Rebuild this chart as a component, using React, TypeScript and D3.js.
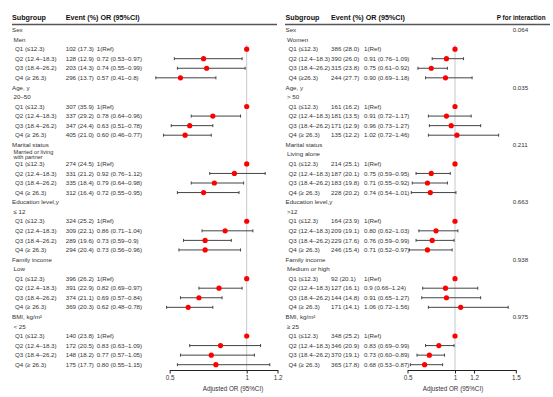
import { useEffect, useRef } from "react";
import * as d3 from "d3";

// values
const groups = ["Sex", "Age, y", "Marital status", "Education level,y", "Family income", "BMI, kg/m²"];
const pInteraction = ["0.064", "0.035", "0.211", "0.663", "0.938", "0.975"];
const quartiles = ["Q1 (≤12.3)", "Q2 (12.4–18.3)", "Q3 (18.4–26.2)", "Q4 (≥ 26.3)"];

const leftSub = ["Men", "20–50", "Married or living|with partner", "≤ 12", "Low", "< 25"];
const rightSub = ["Women", "> 50", "Living alone", ">12", "Medium or high", "≥ 25"];

const leftEvents = [
  ["102 (17.3)", "128 (12.9)", "203 (14.3)", "296 (13.7)"],
  ["307 (35.9)", "337 (29.2)", "347 (24.4)", "405 (21.0)"],
  ["274 (24.5)", "331 (21.2)", "335 (18.4)", "312 (16.4)"],
  ["324 (25.2)", "309 (22.1)", "289 (19.6)", "294 (20.4)"],
  ["396 (26.2)", "391 (22.9)", "374 (21.1)", "369 (20.3)"],
  ["140 (23.8)", "172 (20.5)", "148 (18.2)", "175 (17.7)"],
];
const leftOrText = [
  ["1(Ref)", "0.72 (0.53–0.97)", "0.74 (0.55–0.99)", "0.57 (0.41–0.8)"],
  ["1(Ref)", "0.78 (0.64–0.96)", "0.63 (0.51–0.78)", "0.60 (0.46–0.77)"],
  ["1(Ref)", "0.92 (0.76–1.12)", "0.79 (0.64–0.98)", "0.72 (0.55–0.95)"],
  ["1(Ref)", "0.86 (0.71–1.04)", "0.73 (0.59–0.9)", "0.73 (0.56–0.96)"],
  ["1(Ref)", "0.82 (0.69–0.97)", "0.69 (0.57–0.84)", "0.62 (0.48–0.78)"],
  ["1(Ref)", "0.83 (0.63–1.09)", "0.77 (0.57–1.05)", "0.80 (0.55–1.15)"],
];
const leftOr = [
  [1, 0.72, 0.74, 0.57],
  [1, 0.78, 0.63, 0.6],
  [1, 0.92, 0.79, 0.72],
  [1, 0.86, 0.73, 0.73],
  [1, 0.82, 0.69, 0.62],
  [1, 0.83, 0.77, 0.8],
];
const leftLo = [
  [1, 0.53, 0.55, 0.41],
  [1, 0.64, 0.51, 0.46],
  [1, 0.76, 0.64, 0.55],
  [1, 0.71, 0.59, 0.56],
  [1, 0.69, 0.57, 0.48],
  [1, 0.63, 0.57, 0.55],
];
const leftHi = [
  [1, 0.97, 0.99, 0.8],
  [1, 0.96, 0.78, 0.77],
  [1, 1.12, 0.98, 0.95],
  [1, 1.04, 0.9, 0.96],
  [1, 0.97, 0.84, 0.78],
  [1, 1.09, 1.05, 1.15],
];

const rightEvents = [
  ["386 (28.0)", "390 (26.0)", "315 (23.8)", "244 (27.7)"],
  ["161 (16.2)", "181 (13.5)", "171 (12.9)", "135 (12.2)"],
  ["214 (25.1)", "187 (20.1)", "183 (19.8)", "228 (20.2)"],
  ["164 (23.9)", "209 (19.1)", "229 (17.6)", "246 (15.4)"],
  ["92 (20.1)", "127 (16.1)", "144 (14.8)", "171 (14.1)"],
  ["348 (25.2)", "346 (20.9)", "370 (19.1)", "365 (17.8)"],
];
const rightOrText = [
  ["1(Ref)", "0.91 (0.76–1.09)", "0.75 (0.61–0.92)", "0.90 (0.69–1.18)"],
  ["1(Ref)", "0.91 (0.72–1.17)", "0.96 (0.73–1.27)", "1.02 (0.72–1.46)"],
  ["1(Ref)", "0.75 (0.59–0.95)", "0.71 (0.55–0.92)", "0.74 (0.54–1.01)"],
  ["1(Ref)", "0.80 (0.62–1.03)", "0.76 (0.59–0.99)", "0.71 (0.52–0.97)"],
  ["1(Ref)", "0.9 (0.66–1.24)", "0.91 (0.65–1.27)", "1.06 (0.72–1.56)"],
  ["1(Ref)", "0.83 (0.69–0.99)", "0.73 (0.60–0.89)", "0.68 (0.53–0.87)"],
];
const rightOr = [
  [1, 0.91, 0.75, 0.9],
  [1, 0.91, 0.96, 1.02],
  [1, 0.75, 0.71, 0.74],
  [1, 0.8, 0.76, 0.71],
  [1, 0.9, 0.91, 1.06],
  [1, 0.83, 0.73, 0.68],
];
const rightLo = [
  [1, 0.76, 0.61, 0.69],
  [1, 0.72, 0.73, 0.72],
  [1, 0.59, 0.55, 0.54],
  [1, 0.62, 0.59, 0.52],
  [1, 0.66, 0.65, 0.72],
  [1, 0.69, 0.6, 0.53],
];
const rightHi = [
  [1, 1.09, 0.92, 1.18],
  [1, 1.17, 1.27, 1.46],
  [1, 0.95, 0.92, 1.01],
  [1, 1.03, 0.99, 0.97],
  [1, 1.24, 1.27, 1.56],
  [1, 0.99, 0.89, 0.87],
];

// axis ticks (the right axis' "1.5" label sits at the end of the drawn axis in the original)
const leftTicks = [0.5, 1, 1.2];
const leftTickLabels = ["0.5", "1", "1.2"];
const rightTicks = [0.5, 1, 1.2, 1.64];
const rightTickLabels = ["0.5", "1", "1.2", "1.5"];

const W = 553;
const H = 397;
const FONT = "'Liberation Sans', Arial, sans-serif";
const TXT = "#333";

const rowY = d3.scaleLinear().domain([0, 35]).range([30, 364.7]);
const xL = d3.scaleLinear().domain([0.5, 1.2]).range([169.7, 277.5]);
const xR = d3.scaleLinear().domain([0.5, 1.64]).range([407.5, 515.8]);
const axisY = 370;

function Panel(props) {
  const { x0, evX, orX, sub, events, orText, or, lo, hi, x, showP, isLeft } = props;
  return (
    <g>
      <text x={x0} y={20} fontWeight="bold" fontSize={7.2} fill="#111">Subgroup</text>
      <text x={evX} y={20} fontWeight="bold" fontSize={7.2} fill="#111">Event (%) OR (95%CI)</text>
      {groups.map((g, gi) => {
        const base = gi * 6;
        const subLines = sub[gi].split("|");
        return (
          <g key={g}>
            <text x={x0} y={rowY(base)} dy="0.35em" fontSize={6.2} fill={TXT}>{g}</text>
            {showP && (
              <text x={512.7} y={rowY(base)} dy="0.35em" fontSize={6.2} fill={TXT}>{pInteraction[gi]}</text>
            )}
            {subLines.length === 1 ? (
              <text x={x0 + 1.5} y={rowY(base + 1)} dy="0.35em" fontSize={6.2} fill={TXT}>{subLines[0]}</text>
            ) : (
              subLines.map((s, si) => (
                <text key={s} x={x0 + 1.5} y={rowY(base + 1) - 2.6 + si * 5} dy="0.35em" fontSize={5.6} fill={TXT}>{s}</text>
              ))
            )}
            {quartiles.map((q, qi) => {
              const y = rowY(base + 2 + qi);
              const ql = gi === 0 && qi === 3 && !isLeft ? "Q4 (≥26.3)" : q;
              return (
                <g key={q}>
                  <text x={x0 + 3} y={y} dy="0.35em" fontSize={6.2} fill={TXT}>{ql}</text>
                  <text x={evX} y={y} dy="0.35em" fontSize={6.2} fill={TXT}>{events[gi][qi]}</text>
                  <text x={orX} y={y} dy="0.35em" fontSize={6.2} fill={TXT}>{orText[gi][qi]}</text>
                  {qi > 0 && (
                    <g stroke="#444" strokeWidth={1}>
                      <line x1={x(lo[gi][qi])} x2={x(hi[gi][qi])} y1={y} y2={y} />
                      <line x1={x(lo[gi][qi])} x2={x(lo[gi][qi])} y1={y - 1.5} y2={y + 1.5} />
                      <line x1={x(hi[gi][qi])} x2={x(hi[gi][qi])} y1={y - 1.5} y2={y + 1.5} />
                    </g>
                  )}
                  <circle cx={x(or[gi][qi])} cy={y} r={2.6} fill="#ff0000" />
                </g>
              );
            })}
          </g>
        );
      })}
    </g>
  );
}

export default function App() {
  const axL = useRef(null);
  const axR = useRef(null);

  useEffect(() => {
    const draw = (node, scale, ticks, labels) => {
      const g = d3.select(node);
      g.selectAll("*").remove();
      g.call(
        d3
          .axisBottom(scale)
          .tickValues(ticks)
          .tickSize(3.5)
          .tickSizeOuter(0)
          .tickPadding(2.5)
          .tickFormat((d, i) => labels[i])
      );
      g.attr("font-size", 6.3).attr("font-family", FONT);
      g.select(".domain").attr("stroke", "#222").attr("stroke-width", 1);
      g.selectAll(".tick line").attr("stroke", "#222");
      g.selectAll(".tick text").attr("fill", TXT);
    };
    draw(axL.current, xL, leftTicks, leftTickLabels);
    draw(axR.current, xR, rightTicks, rightTickLabels);
  }, []);

  return (
    <svg width={W} height={H} style={{ position: "absolute", left: 0, top: 0, background: "#fff" }} fontFamily={FONT}>
      <rect width={W} height={H} fill="#fff" />
      {/* header rules */}
      <line x1={12} x2={277} y1={24.5} y2={24.5} stroke="#555" strokeWidth={1.4} />
      <line x1={285} x2={550} y1={24.5} y2={24.5} stroke="#555" strokeWidth={1.4} />
      <text x={496.7} y={20} fontWeight="bold" fontSize={6.4} fill="#111">P for interaction</text>
      {/* reference lines at OR = 1 */}
      <line x1={xL(1)} x2={xL(1)} y1={45} y2={axisY} stroke="#c8c8c8" strokeWidth={1} />
      <line x1={xR(1)} x2={xR(1)} y1={45} y2={axisY} stroke="#c8c8c8" strokeWidth={1} />
      <Panel x0={12} evX={65.7} orX={96.7} sub={leftSub} events={leftEvents} orText={leftOrText} or={leftOr} lo={leftLo} hi={leftHi} x={xL} isLeft={true} showP={false} />
      <Panel x0={285.5} evX={331} orX={364} sub={rightSub} events={rightEvents} orText={rightOrText} or={rightOr} lo={rightLo} hi={rightHi} x={xR} isLeft={false} showP={true} />
      <g ref={axL} transform={`translate(0,${axisY})`} />
      <g ref={axR} transform={`translate(0,${axisY})`} />
      <text x={233} y={389} dy="0.35em" textAnchor="middle" fontSize={6.3} fill={TXT}>Adjusted OR (95%CI)</text>
      <text x={453} y={389} dy="0.35em" textAnchor="middle" fontSize={6.3} fill={TXT}>Adjusted OR (95%CI)</text>
    </svg>
  );
}
